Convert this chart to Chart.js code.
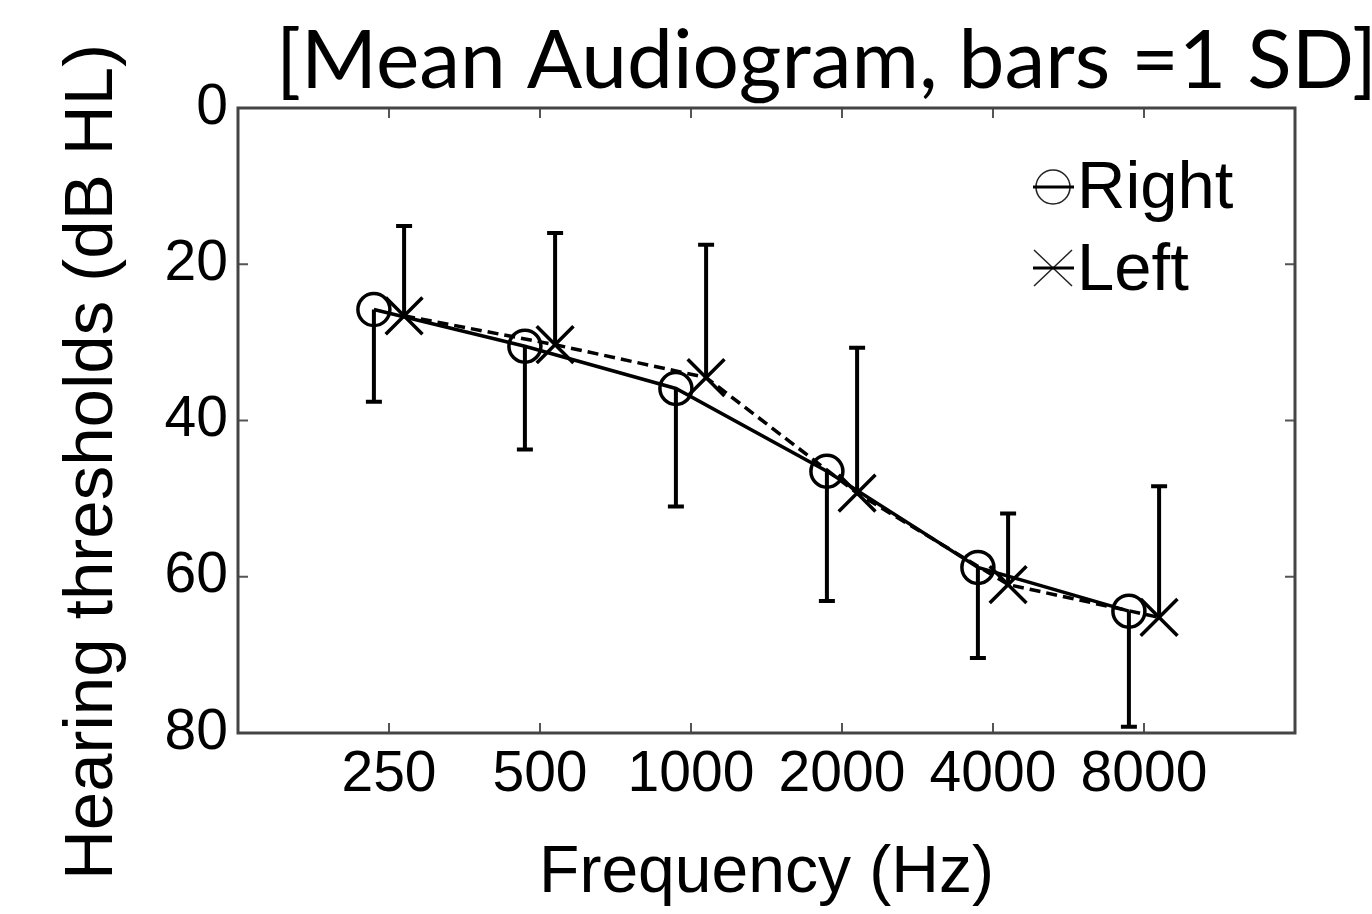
<!DOCTYPE html>
<html>
<head>
<meta charset="utf-8">
<script src="https://cdn.jsdelivr.net/npm/chart.js@4.4.1/dist/chart.umd.min.js"></script>
<style>
html, body { margin: 0; padding: 0; background: #fff; }
</style>
</head>
<body>
<canvas id="chartCanvas" width="1372" height="914"></canvas>
<script>
// audiogram values (dB HL)
const freqLabels = ["250", "500", "1000", "2000", "4000", "8000"];
const rightMean = [25.8, 30.5, 35.9, 46.5, 58.8, 64.4];
const rightSD = [11.8, 13.2, 15.1, 16.6, 11.6, 14.8];
const leftMean = [26.6, 30.3, 34.5, 49.3, 61.0, 65.2];
const leftSD = [11.5, 14.3, 17.0, 18.6, 9.1, 16.8];
const yTicks = [0, 20, 40, 60, 80];

// right ear plotted a bit left of the frequency, left ear a bit right
const rightShift = -0.1;
const leftShift = 0.1;

const FONT = "'Liberation Sans', Arial, sans-serif";

function points(mean, shift) {
    return mean.map((v, i) => ({ x: i + shift, y: v }));
}

// error bars: right ear goes down (+1 SD), left ear goes up (-1 SD)
const errorBars = {
    id: "errorBars",
    afterDatasetsDraw(chart) {
        const ctx = chart.ctx;
        const xs = chart.scales.x, ys = chart.scales.y;
        ctx.save();
        ctx.strokeStyle = "#000";
        ctx.lineWidth = 4;
        const bar = (xv, from, to) => {
            const x = xs.getPixelForValue(xv);
            const y1 = ys.getPixelForValue(from);
            const y2 = ys.getPixelForValue(to);
            ctx.beginPath();
            ctx.moveTo(x, y1);
            ctx.lineTo(x, y2);
            ctx.moveTo(x - 8, y2);
            ctx.lineTo(x + 8, y2);
            ctx.stroke();
        };
        rightMean.forEach((m, i) => bar(i + rightShift, m, m + rightSD[i]));
        leftMean.forEach((m, i) => bar(i + leftShift, m, m - leftSD[i]));
        ctx.restore();
    }
};

// box round the plot with inward ticks on all four sides
const frame = {
    id: "frame",
    afterDraw(chart) {
        const ctx = chart.ctx;
        const a = chart.chartArea;
        const xs = chart.scales.x, ys = chart.scales.y;
        ctx.save();
        ctx.strokeStyle = "#555";
        ctx.lineWidth = 2;
        ctx.beginPath();
        freqLabels.forEach((_, i) => {
            const x = xs.getPixelForValue(i);
            ctx.moveTo(x, a.top); ctx.lineTo(x, a.top + 10);
            ctx.moveTo(x, a.bottom); ctx.lineTo(x, a.bottom - 10);
        });
        yTicks.slice(1, -1).forEach(v => {
            const y = ys.getPixelForValue(v);
            ctx.moveTo(a.left, y); ctx.lineTo(a.left + 10, y);
            ctx.moveTo(a.right, y); ctx.lineTo(a.right - 10, y);
        });
        ctx.stroke();
        ctx.strokeStyle = "#444";
        ctx.lineWidth = 3;
        ctx.strokeRect(a.left, a.top, a.right - a.left, a.bottom - a.top);
        ctx.restore();
    }
};

// title, y axis title and the legend inside the plot
const texts = {
    id: "texts",
    afterDraw(chart) {
        const ctx = chart.ctx;
        ctx.save();
        ctx.fillStyle = "#000";

        ctx.font = "82px Lato, 'Open Sans', sans-serif";
        ctx.textAlign = "left";
        ctx.textBaseline = "alphabetic";
        ctx.fillText("[Mean Audiogram, bars =1 SD]", 276, 88);

        ctx.save();
        ctx.translate(93, 462);
        ctx.rotate(-Math.PI / 2);
        ctx.font = "69px " + FONT;
        ctx.textAlign = "center";
        ctx.textBaseline = "middle";
        ctx.fillText("Hearing thresholds (dB HL)", 0, 0);
        ctx.restore();

        // legend
        ctx.font = "67px " + FONT;
        ctx.fillText("Right", 1077, 208);
        ctx.fillText("Left", 1077, 290);
        ctx.strokeStyle = "#222";
        ctx.lineWidth = 1.5;
        ctx.beginPath();
        ctx.arc(1053, 187, 17, 0, Math.PI * 2);
        ctx.stroke();
        ctx.beginPath();
        ctx.moveTo(1034, 268 - 18); ctx.lineTo(1072, 268 + 18);
        ctx.moveTo(1072, 268 - 18); ctx.lineTo(1034, 268 + 18);
        ctx.stroke();
        ctx.lineWidth = 3;
        ctx.strokeStyle = "#000";
        ctx.beginPath();
        ctx.moveTo(1033, 187); ctx.lineTo(1074, 187);
        ctx.moveTo(1033, 268); ctx.lineTo(1074, 268);
        ctx.stroke();
        ctx.restore();
    }
};

const ctx = document.getElementById("chartCanvas").getContext("2d");
const chart = new Chart(ctx, {
    type: "line",
    data: {
        datasets: [{
            label: "Right",
            data: points(rightMean, rightShift),
            borderColor: "#000",
            borderWidth: 3.5,
            pointStyle: "circle",
            pointRadius: 16,
            pointBorderWidth: 3.5,
            pointBorderColor: "#000",
            pointBackgroundColor: "rgba(0,0,0,0)",
            fill: false,
            tension: 0
        }, {
            label: "Left",
            data: points(leftMean, leftShift),
            borderColor: "#000",
            borderWidth: 3.5,
            borderDash: [11, 6],
            pointStyle: "crossRot",
            pointRadius: 26,
            pointBorderWidth: 3.5,
            pointBorderColor: "#000",
            fill: false,
            tension: 0
        }]
    },
    options: {
        responsive: false,
        animation: false,
        devicePixelRatio: 1,
        layout: { padding: { top: 108, right: 77, left: 0, bottom: 0 } },
        plugins: {
            legend: { display: false },
            tooltip: { enabled: false }
        },
        scales: {
            x: {
                type: "linear",
                min: -1,
                max: 6,
                afterFit(scale) { scale.height = 181; },
                afterBuildTicks(scale) {
                    scale.ticks = freqLabels.map((_, i) => ({ value: i }));
                },
                ticks: {
                    callback: v => freqLabels[Math.round(v)],
                    color: "#000",
                    font: { family: FONT, size: 57 },
                    padding: 8,
                    maxRotation: 0,
                    autoSkip: false
                },
                grid: { display: false, drawTicks: false },
                border: { display: false },
                title: {
                    display: true,
                    text: "Frequency (Hz)",
                    color: "#000",
                    font: { family: FONT, size: 66, lineHeight: 1 },
                    padding: { top: 0, bottom: 7 }
                }
            },
            y: {
                min: 0,
                max: 80,
                reverse: true,
                afterFit(scale) { scale.width = 238; },
                afterBuildTicks(scale) {
                    scale.ticks = yTicks.map(v => ({ value: v }));
                },
                ticks: {
                    color: "#000",
                    font: { family: FONT, size: 57 },
                    padding: 10
                },
                grid: { display: false, drawTicks: false },
                border: { display: false }
            }
        }
    },
    plugins: [errorBars, frame, texts]
});
</script>
</body>
</html>
